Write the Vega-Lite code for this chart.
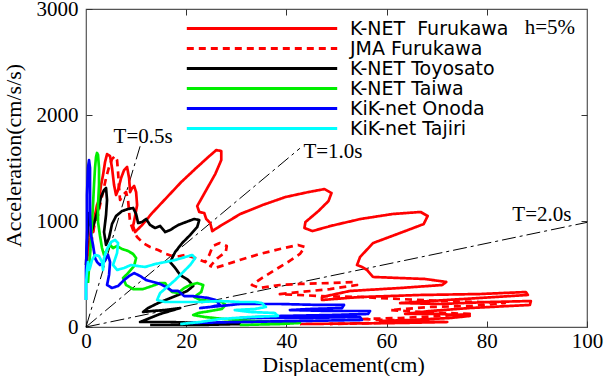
{
"$schema":"https://vega.github.io/schema/vega-lite/v6.json",
"width":501,"height":318,
"autosize":"none",
"padding":{"left":86,"top":9,"right":19,"bottom":49},
"background":"white",
"config":{
 "view":{"stroke":"#555555","strokeWidth":1.2},
 "axis":{"grid":false,"domain":false,"tickColor":"#333333","tickWidth":1,"tickSize":-6,"labelFont":"Liberation Serif","labelFontSize":21,"labelColor":"#000000","labelFlush":false,"titleFont":"Liberation Serif","titleFontSize":22,"titleFontWeight":"normal","titleColor":"#000000"}
},
"resolve":{"axis":{"x":"independent","y":"independent"}},
"layer":[
{
 "data":{"values":[
  {"t":"0.5","x":0,"y":0},{"t":"0.5","x":10.8,"y":1705},
  {"t":"1.0","x":0,"y":0},{"t":"1.0","x":42.7,"y":1686},
  {"t":"2.0","x":0,"y":0},{"t":"2.0","x":100,"y":987}]},
 "mark":{"type":"line","color":"#000000","strokeWidth":1,"strokeDash":[14,4,3,4]},
 "encoding":{
  "x":{"field":"x","type":"quantitative","scale":{"domain":[0,100],"nice":false},"axis":{"values":[0,20,40,60,80,100],"format":"d","title":"Displacement(cm)","labelPadding":9,"titlePadding":3,"titleX":257}},
  "y":{"field":"y","type":"quantitative","scale":{"domain":[0,3000],"nice":false},"axis":{"values":[0,1000,2000,3000],"format":"d","title":"Acceleration(cm/s/s)","labelPadding":14,"titlePadding":11,"titleY":146}},
  "detail":{"field":"t"}
 }
},
{
 "data":{"values":[
{"s":"K-NET Furukawa","x":0.2,"y":613},{"s":"K-NET Furukawa","x":0.4,"y":726},{"s":"K-NET Furukawa","x":0.8,"y":840},{"s":"K-NET Furukawa","x":1.0,"y":934},{"s":"K-NET Furukawa","x":1.4,"y":896},{"s":"K-NET Furukawa","x":1.8,"y":1056},{"s":"K-NET Furukawa","x":2.2,"y":1150},{"s":"K-NET Furukawa","x":2.6,"y":1198},{"s":"K-NET Furukawa","x":3.0,"y":1339},{"s":"K-NET Furukawa","x":3.4,"y":1433},{"s":"K-NET Furukawa","x":3.8,"y":1556},{"s":"K-NET Furukawa","x":4.2,"y":1631},{"s":"K-NET Furukawa","x":4.8,"y":1612},{"s":"K-NET Furukawa","x":5.2,"y":1499},{"s":"K-NET Furukawa","x":5.6,"y":1339},{"s":"K-NET Furukawa","x":6.0,"y":1245},{"s":"K-NET Furukawa","x":6.4,"y":1292},{"s":"K-NET Furukawa","x":7.0,"y":1405},{"s":"K-NET Furukawa","x":7.6,"y":1480},{"s":"K-NET Furukawa","x":8.2,"y":1509},{"s":"K-NET Furukawa","x":8.6,"y":1405},{"s":"K-NET Furukawa","x":8.8,"y":1273},{"s":"K-NET Furukawa","x":9.2,"y":1311},{"s":"K-NET Furukawa","x":9.6,"y":1330},{"s":"K-NET Furukawa","x":10.0,"y":1273},{"s":"K-NET Furukawa","x":10.2,"y":1150},{"s":"K-NET Furukawa","x":9.8,"y":1047},{"s":"K-NET Furukawa","x":9.4,"y":952},{"s":"K-NET Furukawa","x":9.8,"y":896},{"s":"K-NET Furukawa","x":11.2,"y":962},{"s":"K-NET Furukawa","x":13.2,"y":1075},{"s":"K-NET Furukawa","x":16.0,"y":1216},{"s":"K-NET Furukawa","x":19.0,"y":1367},{"s":"K-NET Furukawa","x":22.0,"y":1500},{"s":"K-NET Furukawa","x":24.4,"y":1603},{"s":"K-NET Furukawa","x":26.0,"y":1669},{"s":"K-NET Furukawa","x":27.0,"y":1660},{"s":"K-NET Furukawa","x":27.0,"y":1575},{"s":"K-NET Furukawa","x":25.8,"y":1443},{"s":"K-NET Furukawa","x":24.0,"y":1292},{"s":"K-NET Furukawa","x":22.2,"y":1141},{"s":"K-NET Furukawa","x":22.6,"y":1085},{"s":"K-NET Furukawa","x":23.6,"y":1075},{"s":"K-NET Furukawa","x":24.0,"y":1019},{"s":"K-NET Furukawa","x":24.8,"y":981},{"s":"K-NET Furukawa","x":25.2,"y":905},{"s":"K-NET Furukawa","x":26.8,"y":953},{"s":"K-NET Furukawa","x":30.8,"y":1066},{"s":"K-NET Furukawa","x":35.2,"y":1150},{"s":"K-NET Furukawa","x":39.8,"y":1226},{"s":"K-NET Furukawa","x":44.4,"y":1273},{"s":"K-NET Furukawa","x":47.6,"y":1301},{"s":"K-NET Furukawa","x":49.0,"y":1264},{"s":"K-NET Furukawa","x":48.4,"y":1188},{"s":"K-NET Furukawa","x":46.4,"y":1094},{"s":"K-NET Furukawa","x":43.8,"y":990},{"s":"K-NET Furukawa","x":43.6,"y":934},{"s":"K-NET Furukawa","x":45.2,"y":905},{"s":"K-NET Furukawa","x":48.8,"y":953},{"s":"K-NET Furukawa","x":54.8,"y":1019},{"s":"K-NET Furukawa","x":61.2,"y":1066},{"s":"K-NET Furukawa","x":66.8,"y":1085},{"s":"K-NET Furukawa","x":68.2,"y":1047},{"s":"K-NET Furukawa","x":67.4,"y":971},{"s":"K-NET Furukawa","x":62.7,"y":887},{"s":"K-NET Furukawa","x":57.3,"y":792},{"s":"K-NET Furukawa","x":54.7,"y":660},{"s":"K-NET Furukawa","x":54.1,"y":585},{"s":"K-NET Furukawa","x":55.1,"y":566},{"s":"K-NET Furukawa","x":56.1,"y":538},{"s":"K-NET Furukawa","x":57.3,"y":472},{"s":"K-NET Furukawa","x":62.7,"y":462},{"s":"K-NET Furukawa","x":67.7,"y":453},{"s":"K-NET Furukawa","x":71.9,"y":425},{"s":"K-NET Furukawa","x":71.1,"y":396},{"s":"K-NET Furukawa","x":62.7,"y":368},{"s":"K-NET Furukawa","x":52.7,"y":340},{"s":"K-NET Furukawa","x":47.1,"y":283},{"s":"K-NET Furukawa","x":47.1,"y":255},{"s":"K-NET Furukawa","x":54.7,"y":283},{"s":"K-NET Furukawa","x":66.7,"y":302},{"s":"K-NET Furukawa","x":78.6,"y":311},{"s":"K-NET Furukawa","x":87.8,"y":330},{"s":"K-NET Furukawa","x":88.2,"y":302},{"s":"K-NET Furukawa","x":78.6,"y":274},{"s":"K-NET Furukawa","x":68.7,"y":245},{"s":"K-NET Furukawa","x":62.7,"y":226},{"s":"K-NET Furukawa","x":70.7,"y":217},{"s":"K-NET Furukawa","x":80.6,"y":236},{"s":"K-NET Furukawa","x":88.8,"y":245},{"s":"K-NET Furukawa","x":88.6,"y":208},{"s":"K-NET Furukawa","x":76.6,"y":179},{"s":"K-NET Furukawa","x":68.7,"y":151},{"s":"K-NET Furukawa","x":63.7,"y":123},{"s":"K-NET Furukawa","x":70.7,"y":123},{"s":"K-NET Furukawa","x":76.6,"y":104},{"s":"K-NET Furukawa","x":72.7,"y":85},{"s":"K-NET Furukawa","x":64.7,"y":66},{"s":"K-NET Furukawa","x":58.7,"y":57},{"s":"K-NET Furukawa","x":72.1,"y":47},{"s":"K-NET Furukawa","x":62.7,"y":38},{"s":"K-NET Furukawa","x":42.7,"y":28},
{"s":"JMA Furukawa","x":0.4,"y":557},{"s":"JMA Furukawa","x":0.8,"y":726},{"s":"JMA Furukawa","x":1.2,"y":840},{"s":"JMA Furukawa","x":1.8,"y":991},{"s":"JMA Furukawa","x":2.4,"y":1057},{"s":"JMA Furukawa","x":2.8,"y":1151},{"s":"JMA Furukawa","x":3.4,"y":1274},{"s":"JMA Furukawa","x":4.0,"y":1406},{"s":"JMA Furukawa","x":4.6,"y":1509},{"s":"JMA Furukawa","x":5.2,"y":1585},{"s":"JMA Furukawa","x":5.8,"y":1613},{"s":"JMA Furukawa","x":6.2,"y":1575},{"s":"JMA Furukawa","x":6.4,"y":1462},{"s":"JMA Furukawa","x":6.6,"y":1311},{"s":"JMA Furukawa","x":6.8,"y":1198},{"s":"JMA Furukawa","x":7.4,"y":1245},{"s":"JMA Furukawa","x":8.0,"y":1274},{"s":"JMA Furukawa","x":8.4,"y":1198},{"s":"JMA Furukawa","x":8.6,"y":1085},{"s":"JMA Furukawa","x":8.8,"y":991},{"s":"JMA Furukawa","x":9.4,"y":915},{"s":"JMA Furukawa","x":10.2,"y":849},{"s":"JMA Furukawa","x":11.4,"y":792},{"s":"JMA Furukawa","x":12.8,"y":755},{"s":"JMA Furukawa","x":14.4,"y":726},{"s":"JMA Furukawa","x":16.0,"y":689},{"s":"JMA Furukawa","x":17.8,"y":660},{"s":"JMA Furukawa","x":19.8,"y":679},{"s":"JMA Furukawa","x":21.8,"y":651},{"s":"JMA Furukawa","x":23.8,"y":613},{"s":"JMA Furukawa","x":24.6,"y":679},{"s":"JMA Furukawa","x":25.3,"y":764},{"s":"JMA Furukawa","x":26.7,"y":792},{"s":"JMA Furukawa","x":28.1,"y":764},{"s":"JMA Furukawa","x":27.9,"y":708},{"s":"JMA Furukawa","x":26.3,"y":651},{"s":"JMA Furukawa","x":24.8,"y":575},{"s":"JMA Furukawa","x":25.7,"y":557},{"s":"JMA Furukawa","x":27.7,"y":585},{"s":"JMA Furukawa","x":30.7,"y":632},{"s":"JMA Furukawa","x":34.7,"y":689},{"s":"JMA Furukawa","x":38.7,"y":736},{"s":"JMA Furukawa","x":42.3,"y":774},{"s":"JMA Furukawa","x":43.7,"y":755},{"s":"JMA Furukawa","x":42.7,"y":689},{"s":"JMA Furukawa","x":40.3,"y":613},{"s":"JMA Furukawa","x":37.7,"y":538},{"s":"JMA Furukawa","x":35.1,"y":462},{"s":"JMA Furukawa","x":33.1,"y":396},{"s":"JMA Furukawa","x":34.7,"y":368},{"s":"JMA Furukawa","x":38.7,"y":396},{"s":"JMA Furukawa","x":42.7,"y":406},{"s":"JMA Furukawa","x":48.7,"y":415},{"s":"JMA Furukawa","x":53.7,"y":425},{"s":"JMA Furukawa","x":54.1,"y":396},{"s":"JMA Furukawa","x":48.7,"y":358},{"s":"JMA Furukawa","x":42.7,"y":330},{"s":"JMA Furukawa","x":38.7,"y":311},{"s":"JMA Furukawa","x":46.7,"y":292},{"s":"JMA Furukawa","x":54.7,"y":283},{"s":"JMA Furukawa","x":62.7,"y":264},{"s":"JMA Furukawa","x":70.7,"y":245},{"s":"JMA Furukawa","x":78.6,"y":236},{"s":"JMA Furukawa","x":83.6,"y":226},{"s":"JMA Furukawa","x":76.6,"y":198},{"s":"JMA Furukawa","x":68.7,"y":189},{"s":"JMA Furukawa","x":60.7,"y":160},{"s":"JMA Furukawa","x":66.7,"y":142},{"s":"JMA Furukawa","x":76.6,"y":123},{"s":"JMA Furukawa","x":70.7,"y":104},{"s":"JMA Furukawa","x":62.7,"y":85},{"s":"JMA Furukawa","x":54.7,"y":75},{"s":"JMA Furukawa","x":66.7,"y":57},{"s":"JMA Furukawa","x":58.7,"y":38},{"s":"JMA Furukawa","x":48.7,"y":28},
{"s":"K-NET Toyosato","x":0.0,"y":585},{"s":"K-NET Toyosato","x":0.2,"y":774},{"s":"K-NET Toyosato","x":0.4,"y":962},{"s":"K-NET Toyosato","x":0.6,"y":1075},{"s":"K-NET Toyosato","x":0.8,"y":991},{"s":"K-NET Toyosato","x":1.2,"y":915},{"s":"K-NET Toyosato","x":1.8,"y":1009},{"s":"K-NET Toyosato","x":2.4,"y":1104},{"s":"K-NET Toyosato","x":3.0,"y":1226},{"s":"K-NET Toyosato","x":3.6,"y":1292},{"s":"K-NET Toyosato","x":4.0,"y":1311},{"s":"K-NET Toyosato","x":4.2,"y":1198},{"s":"K-NET Toyosato","x":4.0,"y":1057},{"s":"K-NET Toyosato","x":3.6,"y":896},{"s":"K-NET Toyosato","x":4.0,"y":774},{"s":"K-NET Toyosato","x":4.6,"y":840},{"s":"K-NET Toyosato","x":5.2,"y":972},{"s":"K-NET Toyosato","x":6.0,"y":1047},{"s":"K-NET Toyosato","x":7.2,"y":1094},{"s":"K-NET Toyosato","x":8.4,"y":1113},{"s":"K-NET Toyosato","x":9.4,"y":1123},{"s":"K-NET Toyosato","x":10.0,"y":1066},{"s":"K-NET Toyosato","x":10.4,"y":981},{"s":"K-NET Toyosato","x":11.2,"y":991},{"s":"K-NET Toyosato","x":12.0,"y":1019},{"s":"K-NET Toyosato","x":12.8,"y":962},{"s":"K-NET Toyosato","x":13.8,"y":934},{"s":"K-NET Toyosato","x":14.8,"y":953},{"s":"K-NET Toyosato","x":15.8,"y":896},{"s":"K-NET Toyosato","x":16.8,"y":915},{"s":"K-NET Toyosato","x":18.4,"y":962},{"s":"K-NET Toyosato","x":20.0,"y":991},{"s":"K-NET Toyosato","x":21.6,"y":1019},{"s":"K-NET Toyosato","x":22.6,"y":1009},{"s":"K-NET Toyosato","x":22.2,"y":943},{"s":"K-NET Toyosato","x":20.8,"y":868},{"s":"K-NET Toyosato","x":19.2,"y":792},{"s":"K-NET Toyosato","x":17.8,"y":708},{"s":"K-NET Toyosato","x":16.8,"y":613},{"s":"K-NET Toyosato","x":17.8,"y":557},{"s":"K-NET Toyosato","x":18.8,"y":491},{"s":"K-NET Toyosato","x":20.4,"y":443},{"s":"K-NET Toyosato","x":21.4,"y":387},{"s":"K-NET Toyosato","x":20.2,"y":340},{"s":"K-NET Toyosato","x":18.4,"y":302},{"s":"K-NET Toyosato","x":16.4,"y":264},{"s":"K-NET Toyosato","x":14.4,"y":226},{"s":"K-NET Toyosato","x":12.4,"y":179},{"s":"K-NET Toyosato","x":11.4,"y":142},{"s":"K-NET Toyosato","x":13.2,"y":151},{"s":"K-NET Toyosato","x":15.8,"y":160},{"s":"K-NET Toyosato","x":18.8,"y":179},{"s":"K-NET Toyosato","x":14.8,"y":123},{"s":"K-NET Toyosato","x":12.8,"y":85},{"s":"K-NET Toyosato","x":10.8,"y":47},{"s":"K-NET Toyosato","x":16.8,"y":47},{"s":"K-NET Toyosato","x":22.8,"y":38},{"s":"K-NET Toyosato","x":30.7,"y":28},{"s":"K-NET Toyosato","x":22.8,"y":19},{"s":"K-NET Toyosato","x":12.8,"y":19},
{"s":"K-NET Taiwa","x":0.4,"y":415},{"s":"K-NET Taiwa","x":0.6,"y":557},{"s":"K-NET Taiwa","x":0.8,"y":679},{"s":"K-NET Taiwa","x":1.0,"y":821},{"s":"K-NET Taiwa","x":1.2,"y":991},{"s":"K-NET Taiwa","x":1.4,"y":1151},{"s":"K-NET Taiwa","x":1.6,"y":1340},{"s":"K-NET Taiwa","x":1.8,"y":1500},{"s":"K-NET Taiwa","x":2.0,"y":1604},{"s":"K-NET Taiwa","x":2.2,"y":1642},{"s":"K-NET Taiwa","x":2.4,"y":1623},{"s":"K-NET Taiwa","x":2.6,"y":1500},{"s":"K-NET Taiwa","x":2.6,"y":1340},{"s":"K-NET Taiwa","x":2.4,"y":1151},{"s":"K-NET Taiwa","x":2.4,"y":991},{"s":"K-NET Taiwa","x":2.8,"y":858},{"s":"K-NET Taiwa","x":3.2,"y":745},{"s":"K-NET Taiwa","x":3.6,"y":679},{"s":"K-NET Taiwa","x":4.2,"y":726},{"s":"K-NET Taiwa","x":4.8,"y":774},{"s":"K-NET Taiwa","x":5.4,"y":745},{"s":"K-NET Taiwa","x":6.2,"y":764},{"s":"K-NET Taiwa","x":7.2,"y":736},{"s":"K-NET Taiwa","x":8.4,"y":717},{"s":"K-NET Taiwa","x":9.4,"y":689},{"s":"K-NET Taiwa","x":10.0,"y":651},{"s":"K-NET Taiwa","x":9.6,"y":575},{"s":"K-NET Taiwa","x":8.4,"y":509},{"s":"K-NET Taiwa","x":7.4,"y":462},{"s":"K-NET Taiwa","x":8.0,"y":396},{"s":"K-NET Taiwa","x":9.4,"y":358},{"s":"K-NET Taiwa","x":11.4,"y":358},{"s":"K-NET Taiwa","x":13.2,"y":387},{"s":"K-NET Taiwa","x":14.8,"y":415},{"s":"K-NET Taiwa","x":15.8,"y":415},{"s":"K-NET Taiwa","x":16.4,"y":368},{"s":"K-NET Taiwa","x":17.2,"y":330},{"s":"K-NET Taiwa","x":18.4,"y":321},{"s":"K-NET Taiwa","x":19.6,"y":368},{"s":"K-NET Taiwa","x":20.8,"y":396},{"s":"K-NET Taiwa","x":22.2,"y":415},{"s":"K-NET Taiwa","x":23.4,"y":396},{"s":"K-NET Taiwa","x":23.0,"y":330},{"s":"K-NET Taiwa","x":21.6,"y":283},{"s":"K-NET Taiwa","x":22.8,"y":255},{"s":"K-NET Taiwa","x":25.3,"y":245},{"s":"K-NET Taiwa","x":27.1,"y":236},{"s":"K-NET Taiwa","x":27.9,"y":208},{"s":"K-NET Taiwa","x":27.1,"y":170},{"s":"K-NET Taiwa","x":24.8,"y":151},{"s":"K-NET Taiwa","x":22.4,"y":132},{"s":"K-NET Taiwa","x":21.4,"y":113},{"s":"K-NET Taiwa","x":23.8,"y":94},{"s":"K-NET Taiwa","x":27.7,"y":75},{"s":"K-NET Taiwa","x":33.7,"y":57},{"s":"K-NET Taiwa","x":39.7,"y":47},{"s":"K-NET Taiwa","x":42.7,"y":38},{"s":"K-NET Taiwa","x":38.7,"y":28},{"s":"K-NET Taiwa","x":30.7,"y":19},
{"s":"KiK-net Onoda","x":0.0,"y":255},{"s":"KiK-net Onoda","x":0.0,"y":538},{"s":"KiK-net Onoda","x":0.2,"y":915},{"s":"KiK-net Onoda","x":0.2,"y":1245},{"s":"KiK-net Onoda","x":0.4,"y":1500},{"s":"KiK-net Onoda","x":0.6,"y":1575},{"s":"KiK-net Onoda","x":0.8,"y":1500},{"s":"KiK-net Onoda","x":0.8,"y":1292},{"s":"KiK-net Onoda","x":0.8,"y":1057},{"s":"KiK-net Onoda","x":1.0,"y":868},{"s":"KiK-net Onoda","x":1.4,"y":774},{"s":"KiK-net Onoda","x":1.8,"y":651},{"s":"KiK-net Onoda","x":2.2,"y":613},{"s":"KiK-net Onoda","x":2.8,"y":585},{"s":"KiK-net Onoda","x":3.6,"y":613},{"s":"KiK-net Onoda","x":4.4,"y":679},{"s":"KiK-net Onoda","x":4.8,"y":613},{"s":"KiK-net Onoda","x":4.6,"y":491},{"s":"KiK-net Onoda","x":4.2,"y":396},{"s":"KiK-net Onoda","x":5.2,"y":368},{"s":"KiK-net Onoda","x":6.4,"y":387},{"s":"KiK-net Onoda","x":7.6,"y":443},{"s":"KiK-net Onoda","x":8.6,"y":481},{"s":"KiK-net Onoda","x":9.6,"y":509},{"s":"KiK-net Onoda","x":10.8,"y":481},{"s":"KiK-net Onoda","x":12.0,"y":443},{"s":"KiK-net Onoda","x":13.4,"y":425},{"s":"KiK-net Onoda","x":14.8,"y":406},{"s":"KiK-net Onoda","x":16.0,"y":377},{"s":"KiK-net Onoda","x":17.2,"y":340},{"s":"KiK-net Onoda","x":18.4,"y":340},{"s":"KiK-net Onoda","x":19.6,"y":292},{"s":"KiK-net Onoda","x":21.2,"y":292},{"s":"KiK-net Onoda","x":22.8,"y":283},{"s":"KiK-net Onoda","x":24.4,"y":274},{"s":"KiK-net Onoda","x":25.9,"y":255},{"s":"KiK-net Onoda","x":26.7,"y":208},{"s":"KiK-net Onoda","x":24.8,"y":189},{"s":"KiK-net Onoda","x":22.8,"y":179},{"s":"KiK-net Onoda","x":30.7,"y":217},{"s":"KiK-net Onoda","x":38.7,"y":217},{"s":"KiK-net Onoda","x":46.7,"y":208},{"s":"KiK-net Onoda","x":51.5,"y":208},{"s":"KiK-net Onoda","x":51.1,"y":179},{"s":"KiK-net Onoda","x":44.7,"y":170},{"s":"KiK-net Onoda","x":40.7,"y":160},{"s":"KiK-net Onoda","x":48.7,"y":151},{"s":"KiK-net Onoda","x":56.7,"y":151},{"s":"KiK-net Onoda","x":56.3,"y":123},{"s":"KiK-net Onoda","x":48.7,"y":113},{"s":"KiK-net Onoda","x":38.7,"y":104},{"s":"KiK-net Onoda","x":30.7,"y":85},{"s":"KiK-net Onoda","x":42.7,"y":85},{"s":"KiK-net Onoda","x":54.7,"y":94},{"s":"KiK-net Onoda","x":55.1,"y":66},{"s":"KiK-net Onoda","x":42.7,"y":57},{"s":"KiK-net Onoda","x":30.7,"y":47},{"s":"KiK-net Onoda","x":20.8,"y":38},
{"s":"KiK-net Tajiri","x":0.0,"y":255},{"s":"KiK-net Tajiri","x":0.0,"y":396},{"s":"KiK-net Tajiri","x":0.2,"y":538},{"s":"KiK-net Tajiri","x":0.4,"y":613},{"s":"KiK-net Tajiri","x":0.6,"y":538},{"s":"KiK-net Tajiri","x":0.8,"y":557},{"s":"KiK-net Tajiri","x":1.2,"y":632},{"s":"KiK-net Tajiri","x":1.8,"y":679},{"s":"KiK-net Tajiri","x":2.6,"y":670},{"s":"KiK-net Tajiri","x":3.2,"y":613},{"s":"KiK-net Tajiri","x":3.4,"y":538},{"s":"KiK-net Tajiri","x":3.6,"y":651},{"s":"KiK-net Tajiri","x":4.2,"y":736},{"s":"KiK-net Tajiri","x":5.0,"y":802},{"s":"KiK-net Tajiri","x":5.8,"y":821},{"s":"KiK-net Tajiri","x":6.4,"y":792},{"s":"KiK-net Tajiri","x":6.2,"y":698},{"s":"KiK-net Tajiri","x":5.4,"y":585},{"s":"KiK-net Tajiri","x":6.2,"y":538},{"s":"KiK-net Tajiri","x":7.6,"y":557},{"s":"KiK-net Tajiri","x":9.0,"y":585},{"s":"KiK-net Tajiri","x":10.4,"y":575},{"s":"KiK-net Tajiri","x":11.8,"y":566},{"s":"KiK-net Tajiri","x":13.8,"y":594},{"s":"KiK-net Tajiri","x":15.8,"y":613},{"s":"KiK-net Tajiri","x":17.8,"y":632},{"s":"KiK-net Tajiri","x":19.8,"y":660},{"s":"KiK-net Tajiri","x":21.2,"y":679},{"s":"KiK-net Tajiri","x":21.8,"y":651},{"s":"KiK-net Tajiri","x":20.8,"y":585},{"s":"KiK-net Tajiri","x":19.4,"y":519},{"s":"KiK-net Tajiri","x":17.8,"y":443},{"s":"KiK-net Tajiri","x":16.2,"y":377},{"s":"KiK-net Tajiri","x":14.8,"y":321},{"s":"KiK-net Tajiri","x":14.2,"y":255},{"s":"KiK-net Tajiri","x":15.8,"y":236},{"s":"KiK-net Tajiri","x":18.8,"y":236},{"s":"KiK-net Tajiri","x":22.8,"y":236},{"s":"KiK-net Tajiri","x":26.7,"y":245},{"s":"KiK-net Tajiri","x":30.7,"y":236},{"s":"KiK-net Tajiri","x":33.7,"y":236},{"s":"KiK-net Tajiri","x":35.1,"y":226},{"s":"KiK-net Tajiri","x":35.9,"y":189},{"s":"KiK-net Tajiri","x":33.7,"y":170},{"s":"KiK-net Tajiri","x":29.7,"y":160},{"s":"KiK-net Tajiri","x":32.7,"y":142},{"s":"KiK-net Tajiri","x":37.7,"y":132},{"s":"KiK-net Tajiri","x":38.3,"y":104},{"s":"KiK-net Tajiri","x":32.7,"y":94},{"s":"KiK-net Tajiri","x":26.7,"y":75},{"s":"KiK-net Tajiri","x":22.8,"y":47},{"s":"KiK-net Tajiri","x":18.8,"y":28}
 ]},
 "mark":{"type":"line","strokeWidth":2.7,"strokeJoin":"round"},
 "encoding":{
  "x":{"field":"x","type":"quantitative","scale":{"domain":[0,100],"nice":false},"axis":{"orient":"top","values":[20,40,60,80],"labels":false,"title":null}},
  "y":{"field":"y","type":"quantitative","scale":{"domain":[0,3000],"nice":false},"axis":{"orient":"right","values":[1000,2000],"labels":false,"title":null}},
  "color":{"field":"s","type":"nominal",
   "scale":{"domain":["K-NET Furukawa","JMA Furukawa","K-NET Toyosato","K-NET Taiwa","KiK-net Onoda","KiK-net Tajiri"],"range":["#ff0000","#ff0000","#000000","#00ee00","#0000ff","#00ffff"]},
   "legend":{"title":null,"orient":"none","legendX":166.5,"legendY":10,"symbolType":"M-9.4,0L9.4,0","symbolSize":256,"symbolStrokeWidth":3,"labelFont":"DejaVu Sans","labelFontSize":19,"labelColor":"#000000","labelOffset":78.5,"rowPadding":0,"padding":0,"labelLimit":400,"labelExpr":"datum.label == 'K-NET Furukawa' ? 'K-NET\u00a0 Furukawa' : datum.label"}},
  "strokeDash":{"field":"s","type":"nominal",
   "scale":{"domain":["K-NET Furukawa","JMA Furukawa","K-NET Toyosato","K-NET Taiwa","KiK-net Onoda","KiK-net Tajiri"],"range":[[1,0],[7,5],[1,0],[1,0],[1,0],[1,0]]},
   "legend":{"title":null,"orient":"none","legendX":166.5,"legendY":10,"symbolType":"M-9.4,0L9.4,0","symbolSize":256,"symbolStrokeWidth":3,"labelFont":"DejaVu Sans","labelFontSize":19,"labelColor":"#000000","labelOffset":78.5,"rowPadding":0,"padding":0,"labelLimit":400,"labelExpr":"datum.label == 'K-NET Furukawa' ? 'K-NET\u00a0 Furukawa' : datum.label"}},
  "order":{"value":null}
 }
},
{
 "data":{"values":[
  {"label":"T=0.5s","x":11.4,"y":1792},
  {"label":"T=1.0s","x":49.3,"y":1650},
  {"label":"T=2.0s","x":91.0,"y":1057},
  {"label":"h=5%","x":92.6,"y":2821}]},
 "mark":{"type":"text","font":"Liberation Serif","fontSize":21,"align":"center","baseline":"middle","color":"#000000"},
 "encoding":{
  "x":{"field":"x","type":"quantitative","scale":{"domain":[0,100],"nice":false},"axis":null},
  "y":{"field":"y","type":"quantitative","scale":{"domain":[0,3000],"nice":false},"axis":null},
  "text":{"field":"label"}
 }
}
]
}
